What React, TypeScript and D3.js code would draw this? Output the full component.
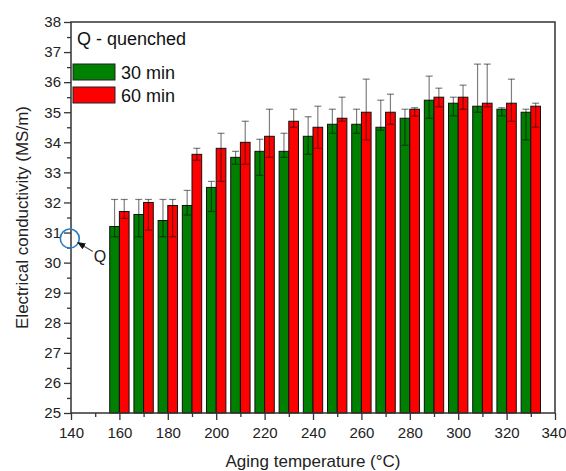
import React, { useEffect, useRef } from "react";
import * as d3 from "d3";

// aging temperatures (°C)
const temps = [160, 170, 180, 190, 200, 210, 220, 230, 240, 250, 260, 270, 280, 290, 300, 310, 320, 330];

// 30 min aging
const min30 = [31.2, 31.6, 31.4, 31.9, 32.5, 33.5, 33.7, 33.7, 34.2, 34.6, 34.6, 34.5, 34.8, 35.4, 35.3, 35.2, 35.1, 35.0];
const min30Hi = [32.1, 32.1, 32.1, 32.4, 32.7, 33.7, 34.1, 34.3, 34.85, 35.1, 35.1, 35.4, 35.1, 36.2, 35.5, 36.6, 35.15, 35.1];
const min30Lo = [30.86, 30.86, 30.86, 31.58, 31.7, 33.27, 32.9, 33.5, 33.6, 34.3, 34.3, 34.4, 33.9, 34.8, 34.88, 35.0, 34.88, 34.08];

// 60 min aging
const min60 = [31.7, 32.0, 31.9, 33.6, 33.8, 34.0, 34.2, 34.7, 34.5, 34.8, 35.0, 35.0, 35.1, 35.5, 35.5, 35.3, 35.3, 35.2];
const min60Hi = [32.1, 32.1, 32.1, 33.8, 34.3, 34.7, 35.1, 35.1, 35.2, 35.5, 36.1, 35.6, 35.15, 35.8, 35.9, 36.6, 36.1, 35.3];
const min60Lo = [31.47, 31.08, 30.86, 33.4, 32.7, 33.27, 33.5, 34.5, 33.8, 34.7, 34.08, 34.6, 34.87, 35.18, 35.1, 35.18, 34.7, 34.5];

// quenched state
const quenched = 30.8;

const xMajor = [140, 160, 180, 200, 220, 240, 260, 280, 300, 320, 340];
const xMinor = [150, 170, 190, 210, 230, 250, 270, 290, 310, 330];
const yMajor = [25, 26, 27, 28, 29, 30, 31, 32, 33, 34, 35, 36, 37, 38];
const yMinor = [25.5, 26.5, 27.5, 28.5, 29.5, 30.5, 31.5, 32.5, 33.5, 34.5, 35.5, 36.5, 37.5];

const FONT = "'Liberation Sans', Arial, sans-serif";

export default function App() {
  const ref = useRef<SVGSVGElement>(null);

  useEffect(() => {
    const svg = d3.select(ref.current);
    svg.selectAll("*").remove();

    const left = 71, right = 555, top = 22, bottom = 413;
    const x = d3.scaleLinear().domain([140, 340]).range([left, right]);
    const y = d3.scaleLinear().domain([25, 38]).range([bottom, top]);
    const half = 4; // bar width in °C

    svg.append("defs").append("marker")
      .attr("id", "arrow")
      .attr("viewBox", "0 0 10 10")
      .attr("refX", 9).attr("refY", 5)
      .attr("markerWidth", 7).attr("markerHeight", 7)
      .attr("orient", "auto-start-reverse")
      .append("path").attr("d", "M0,1 L10,5 L0,9 z").attr("fill", "#111");

    const series = [
      { vals: min30, hi: min30Hi, lo: min30Lo, color: "#008000", off: -half },
      { vals: min60, hi: min60Hi, lo: min60Lo, color: "#ff0000", off: 0 },
    ];

    series.forEach(s => {
      const g = svg.append("g");
      g.selectAll("rect").data(temps).enter().append("rect")
        .attr("x", t => x(t + s.off))
        .attr("width", x(140 + half) - x(140))
        .attr("y", (t, i) => y(s.vals[i]))
        .attr("height", (t, i) => y(25) - y(s.vals[i]))
        .attr("fill", s.color)
        .attr("stroke", "#111")
        .attr("stroke-width", 1);
    });

    // error bars
    series.forEach(s => {
      const g = svg.append("g")
        .attr("stroke", "#000")
        .attr("stroke-opacity", 0.5)
        .attr("stroke-width", 1.2);
      temps.forEach((t, i) => {
        const cx = x(t + s.off + half / 2);
        g.append("line").attr("x1", cx).attr("x2", cx)
          .attr("y1", y(s.hi[i])).attr("y2", y(s.lo[i]));
        [s.hi[i], s.lo[i]].forEach(v => {
          g.append("line").attr("x1", cx - 3.5).attr("x2", cx + 3.5)
            .attr("y1", y(v)).attr("y2", y(v));
        });
      });
    });

    // axes
    const xAxis = svg.append("g").attr("transform", `translate(0,${bottom})`)
      .call(d3.axisBottom(x).tickValues(xMajor).tickSize(7).tickPadding(7).tickFormat(d3.format("d")));
    svg.append("g").attr("transform", `translate(0,${bottom})`)
      .call(d3.axisBottom(x).tickValues(xMinor).tickSize(4).tickFormat(() => ""))
      .select(".domain").remove();
    const yAxis = svg.append("g").attr("transform", `translate(${left},0)`)
      .call(d3.axisLeft(y).tickValues(yMajor).tickSize(7).tickPadding(3).tickFormat(d3.format("d")));
    svg.append("g").attr("transform", `translate(${left},0)`)
      .call(d3.axisLeft(y).tickValues(yMinor).tickSize(4).tickFormat(() => ""))
      .select(".domain").remove();

    svg.selectAll(".tick text")
      .attr("font-family", FONT).attr("font-size", 15).attr("fill", "#222");
    svg.selectAll(".tick line").attr("stroke", "#333").attr("stroke-width", 1.3);
    [xAxis, yAxis].forEach(a => a.select(".domain").remove());
    // keep the last x label inside the window
    xAxis.selectAll<SVGTextElement, number>(".tick text")
      .filter(d => d === 340)
      .attr("text-anchor", "end").attr("dx", 11);

    svg.append("rect")
      .attr("x", left).attr("y", top)
      .attr("width", right - left).attr("height", bottom - top)
      .attr("fill", "none").attr("stroke", "#333").attr("stroke-width", 1.5);

    // titles
    svg.append("text")
      .attr("x", (left + right) / 2).attr("y", 467)
      .attr("text-anchor", "middle")
      .attr("font-family", FONT).attr("font-size", 17).attr("fill", "#222")
      .text("Aging temperature (°C)");
    svg.append("text")
      .attr("transform", `translate(28,${(top + bottom) / 2}) rotate(-90)`)
      .attr("text-anchor", "middle")
      .attr("font-family", FONT).attr("font-size", 17).attr("fill", "#222")
      .text("Electrical conductivity (MS/m)");

    // legend
    const leg = svg.append("g").attr("font-family", FONT).attr("font-size", 18).attr("fill", "#111");
    leg.append("text").attr("x", 77).attr("y", 45).text("Q - quenched");
    [["30 min", "#008000"], ["60 min", "#ff0000"]].forEach(([label, c], i) => {
      leg.append("rect").attr("x", 73).attr("y", 64 + i * 23)
        .attr("width", 42).attr("height", 16)
        .attr("fill", c).attr("stroke", "#222").attr("stroke-width", 1);
      leg.append("text").attr("x", 121).attr("y", 79 + i * 23).text(label);
    });

    // quenched marker
    const qx = x(139.5), qy = y(quenched);
    svg.append("circle").attr("cx", qx).attr("cy", qy).attr("r", 9.5)
      .attr("fill", "none").attr("stroke", "#2a7cc4").attr("stroke-width", 1.6);
    svg.append("line")
      .attr("x1", qx + 23).attr("y1", qy + 13)
      .attr("x2", qx + 8).attr("y2", qy + 4)
      .attr("stroke", "#555").attr("stroke-width", 1.2)
      .attr("marker-end", "url(#arrow)");
    svg.append("text").attr("x", qx + 24).attr("y", qy + 23)
      .attr("font-family", FONT).attr("font-size", 16).attr("fill", "#222")
      .text("Q");
  }, []);

  return (
    <svg ref={ref} width={566} height={471}
      style={{ position: "absolute", left: 0, top: 0, background: "#fff" }} />
  );
}
